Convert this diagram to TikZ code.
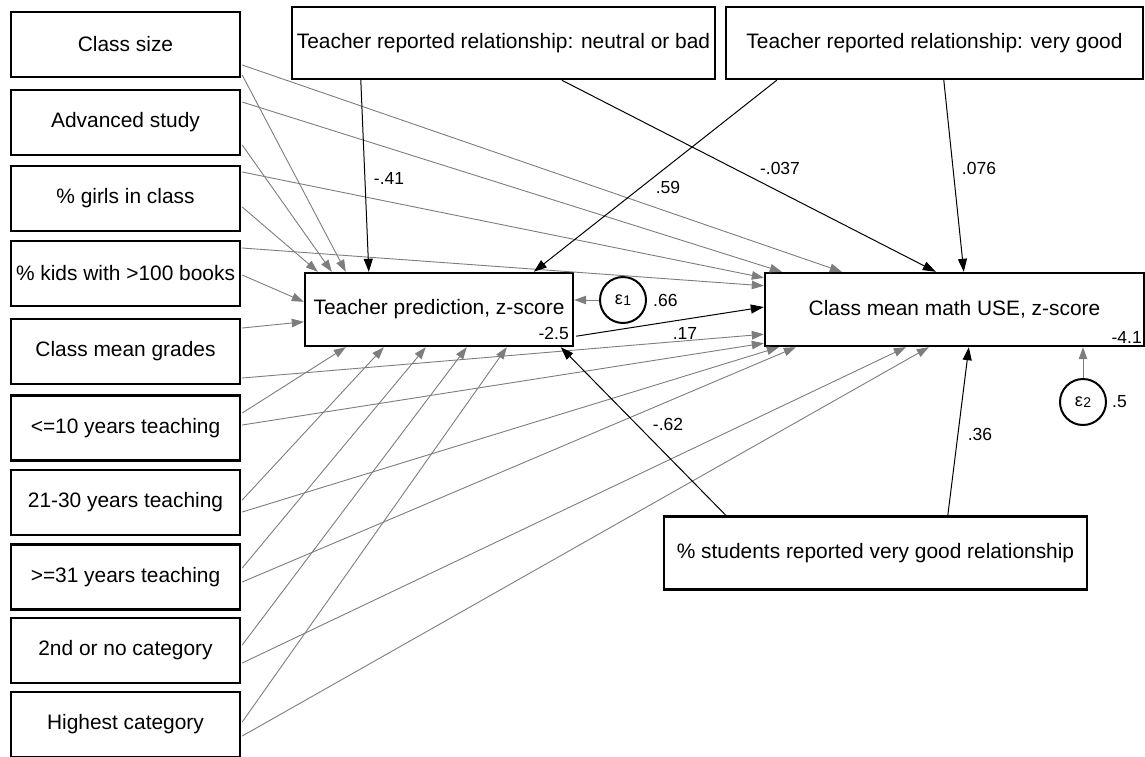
\documentclass[tikz,border=0pt]{standalone}
\usepackage{fontspec}
\setmainfont{Liberation Sans}
\usetikzlibrary{arrows.meta,calc}
\definecolor{garrow}{RGB}{125,125,125}
\newcommand\errlab[1]{{\fontsize{18}{18}\selectfont ε\kern0.3pt\raisebox{-1.5pt}{\fontsize{14}{14}\selectfont #1}}}
\begin{document}
\begin{tikzpicture}[x=1pt,y=-1pt,
  box/.style={draw, line width=2.4pt, inner sep=0pt, font=\fontsize{20.9}{24}\selectfont, align=center},
  lbox/.style={box, minimum width=229pt, minimum height=65pt},
  garr/.style={draw=garrow, line width=0.9pt, -{Triangle[length=12pt,width=8.5pt]}},
  barr/.style={draw=black, line width=1pt, -{Triangle[length=13pt,width=9pt]}},
  lab/.style={font=\fontsize{17.5}{20}\selectfont, inner sep=0pt},
  err/.style={draw, line width=2pt, circle, minimum size=46pt, inner sep=0pt}]
\useasboundingbox (0,0) rectangle (1145,756);
% left exogenous boxes
\node[lbox] (cs) at (125.5,44.5) {Class size};
\node[lbox] (adv) at (125.5,122.5) {Advanced study};
\node[lbox] (girls) at (125.5,198.5) {\% girls in class};
\node[lbox] (kids) at (125.5,273.5) {\% kids with >100 books};
\node[lbox] (grades) at (125.5,351.5) {Class mean grades};
\node[lbox] (le10) at (125.5,428) {<=10 years teaching};
\node[lbox] (y2130) at (125.5,502.5) {21-30 years teaching};
\node[lbox] (ge31) at (125.5,577) {>=31 years teaching};
\node[lbox] (second) at (125.5,650.5) {2nd or no category};
\node[lbox] (highest) at (125.5,724.5) {Highest category};
% top boxes
\node[box, minimum width=423pt, minimum height=72pt] (neut) at (503.5,43) {Teacher reported relationship: neutral or bad};
\node[box, minimum width=417pt, minimum height=72pt] (vgood) at (934.5,43) {Teacher reported relationship: very good};
% endogenous boxes
\node[box, minimum width=268pt, minimum height=73pt] (tp) at (439,309.5) {Teacher prediction, z-score};
\node[box, minimum width=379pt, minimum height=73pt] (cm) at (954.5,309.5) {Class mean math USE, z-score};
\node[box, minimum width=423pt, minimum height=73pt] (stud) at (875.5,553) {\% students reported very good relationship};
% intercepts
\node[lab, anchor=east] (tpint) at (569,333) {-2.5};
\node[lab, anchor=east] (cmint) at (1142,337) {-4.1};
% error terms
\node[err] (e1) at (623,300) {\errlab{1}};
\node[err] (e2) at (1083,402) {\errlab{2}};
\node[lab, anchor=west] (v1) at (653,300) {.66};
\node[lab, anchor=west] (v2) at (1112,402) {.5};
% gray arrows to teacher prediction
\draw[garr] ($(cs.east)+(1,30.5)$) -- ($(tp.north west)+(42,0)$);
\draw[garr] ($(adv.east)+(1,22.5)$) -- ($(tp.north west)+(28,0)$);
\draw[garr] ($(girls.east)+(1,8.5)$) -- ($(tp.north west)+(14,0)$);
\draw[garr] ($(kids.east)+(1,1.5)$) -- ($(tp.north west)+(0,30)$);
\draw[garr] ($(grades.east)+(1,-23.5)$) -- ($(tp.north west)+(0,50)$);
\draw[garr] ($(le10.east)+(1,-15)$) -- ($(tp.south west)+(42,0)$);
\draw[garr] ($(y2130.east)+(1,-2.5)$) -- ($(tp.south west)+(80,0)$);
\draw[garr] ($(ge31.east)+(1,-9)$) -- ($(tp.south west)+(122,0)$);
\draw[garr] ($(second.east)+(1,-5.5)$) -- ($(tp.south west)+(163,0)$);
\draw[garr] ($(highest.east)+(1,-2.5)$) -- ($(tp.south west)+(203,0)$);
% gray arrows to class mean math
\draw[garr] ($(cs.east)+(1,20.5)$) -- ($(cm.north west)+(78,0)$);
\draw[garr] ($(adv.east)+(1,-20.5)$) -- ($(cm.north west)+(18,0)$);
\draw[garr] ($(girls.east)+(1,-26.5)$) -- ($(cm.north west)+(0,6)$);
\draw[garr] ($(kids.east)+(1,-25.5)$) -- ($(cm.north west)+(0,14)$);
\draw[garr] ($(grades.east)+(1,26.5)$) -- ($(cm.south west)+(0,-13)$);
\draw[garr] ($(le10.east)+(1,-3)$) -- ($(cm.south west)+(0,-4)$);
\draw[garr] ($(y2130.east)+(1,9.5)$) -- ($(cm.south west)+(15,0)$);
\draw[garr] ($(ge31.east)+(1,5)$) -- ($(cm.south west)+(32,0)$);
\draw[garr] ($(second.east)+(1,12.5)$) -- ($(cm.south west)+(142,0)$);
\draw[garr] ($(highest.east)+(1,11.5)$) -- ($(cm.south west)+(165,0)$);
% error arrows
\draw[garr] (e1) -- (e1 -| tp.east);
\draw[garr] (e2) -- (e2 |- cm.south);
% black arrows
\draw[barr] ($(neut.south west)+(70,0)$) -- ($(tp.north west)+(65,0)$);
\draw[barr] ($(neut.south west)+(271,0)$) -- ($(cm.north west)+(172,0)$);
\draw[barr] ($(vgood.south west)+(52,0)$) -- ($(tp.north west)+(230,0)$);
\draw[barr] ($(vgood.south west)+(219,0)$) -- ($(cm.north west)+(200,0)$);
\draw[barr] ($(tp.south east)+(2,-11)$) -- ($(cm.west)+(0,-2.5)$);
\draw[barr] ($(stud.north west)+(63,0)$) -- ($(tp.south west)+(257,0)$);
\draw[barr] ($(stud.north west)+(285,0)$) -- ($(cm.south west)+(205,0)$);
% path labels
\node[lab] (l41) at (389,178) {-.41};
\node[lab] (l59) at (668,187) {.59};
\node[lab] (l037) at (780,168) {-.037};
\node[lab] (l076) at (979,168) {.076};
\node[lab] (l17) at (685,333) {.17};
\node[lab] (l62) at (668,424) {-.62};
\node[lab] (l36) at (980,434) {.36};
\end{tikzpicture}
\end{document}
